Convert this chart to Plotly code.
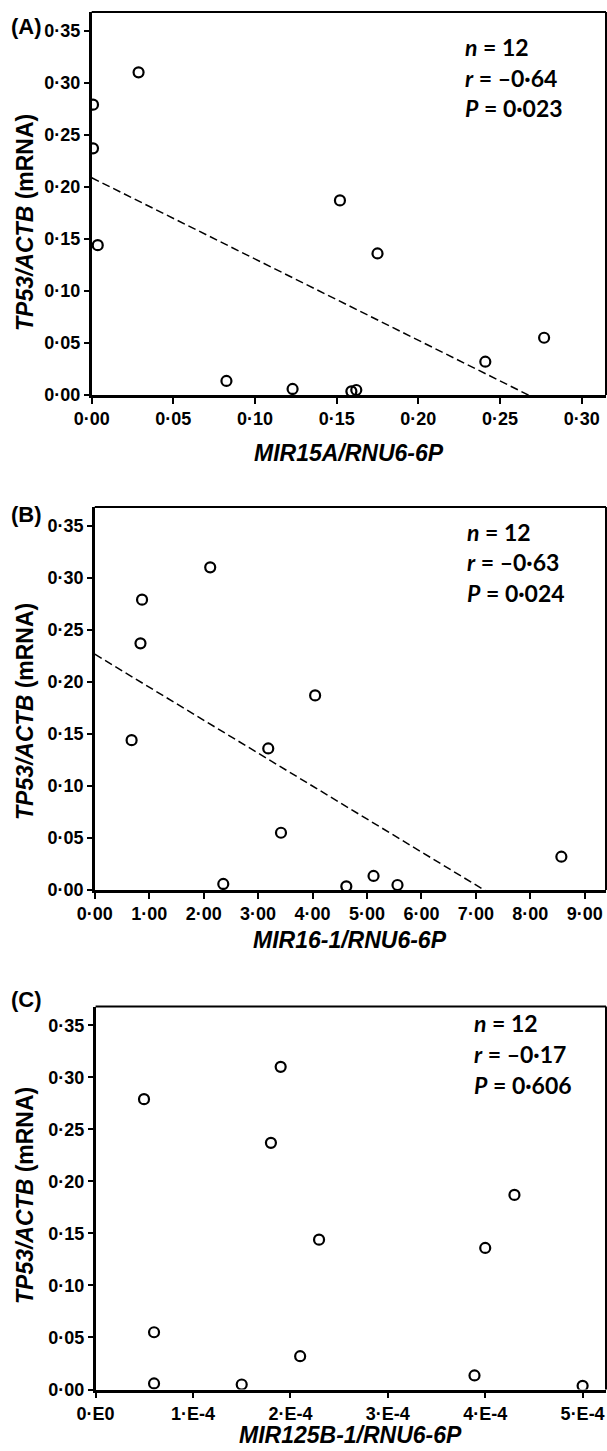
import numpy as np
import plotly.graph_objects as go

W, H = 607, 1451

# ---- data ----
tp53 = [0.310, 0.279, 0.237, 0.187, 0.144, 0.136, 0.055, 0.032, 0.0135, 0.0058, 0.0048, 0.0035]
mir15a = [0.0287, 0.0008, 0.0008, 0.152, 0.0037, 0.175, 0.277, 0.241, 0.0825, 0.123, 0.162, 0.159]
mir16 = [2.12, 0.868, 0.839, 4.047, 0.676, 3.186, 3.42, 8.57, 5.12, 2.36, 5.56, 4.62]
mir125b = [1.90e-4, 0.497e-4, 1.80e-4, 4.30e-4, 2.294e-4, 4.00e-4, 0.60e-4, 2.10e-4, 3.89e-4, 0.60e-4, 1.50e-4, 5.00e-4]

y_tickvals = [0.00, 0.05, 0.10, 0.15, 0.20, 0.25, 0.30, 0.35]
y_ticktext = ["0·00", "0·05", "0·10", "0·15", "0·20", "0·25", "0·30", "0·35"]
xa_tickvals = [0.00, 0.05, 0.10, 0.15, 0.20, 0.25, 0.30]
xa_ticktext = ["0·00", "0·05", "0·10", "0·15", "0·20", "0·25", "0·30"]
xb_tickvals = [0, 1, 2, 3, 4, 5, 6, 7, 8, 9]
xb_ticktext = ["0·00", "1·00", "2·00", "3·00", "4·00", "5·00", "6·00", "7·00", "8·00", "9·00"]
xc_tickvals = [0, 1e-4, 2e-4, 3e-4, 4e-4, 5e-4]
xc_ticktext = ["0·E0", "1·E-4", "2·E-4", "3·E-4", "4·E-4", "5·E-4"]

stats_a = ["<i>n</i> = 12", "<i>r</i> = –0·64", "<i>P</i> = 0·023"]
stats_b = ["<i>n</i> = 12", "<i>r</i> = –0·63", "<i>P</i> = 0·024"]
stats_c = ["<i>n</i> = 12", "<i>r</i> = –0·17", "<i>P</i> = 0·606"]

panel_labels = ["(A)", "(B)", "(C)"]
x_titles = ["MIR15A/RNU6-6P", "MIR16-1/RNU6-6P", "MIR125B-1/RNU6-6P"]
y_title = "<i>TP53/ACTB</i> (mRNA)"

def px(x):
    return x / W

def py(y):
    return 1 - y / H

# layout geometry (pixels)
panels = [
    dict(x=mir15a, fit=True, left=91.7, top=12, bottom=395, xmax=0.3149,
         tv=xa_tickvals, tt=xa_ticktext, stats=stats_a, stat_x=463, stat_y=[47, 78, 108],
         lab_y=26, xt_y=453, yt_y=223),
    dict(x=mir16, fit=True, left=94.8, top=507, bottom=890, xmax=9.39,
         tv=xb_tickvals, tt=xb_ticktext, stats=stats_b, stat_x=464.6, stat_y=[532, 562, 593],
         lab_y=514, xt_y=940, yt_y=712),
    dict(x=mir125b, fit=False, left=95.6, top=1006.5, bottom=1389.5, xmax=5.24e-4,
         tv=xc_tickvals, tt=xc_ticktext, stats=stats_c, stat_x=471.5, stat_y=[1023, 1054, 1085],
         lab_y=999, xt_y=1435, yt_y=1196),
]
RIGHT = 606
YMAX = 0.368

tick_font = dict(family="Liberation Sans, Arial, sans-serif", size=18, color="black", weight="bold")

fig = go.Figure()
annotations = []
shapes = []
layout = {}

for i, p in enumerate(panels):
    k = "" if i == 0 else str(i + 1)
    xa, ya = "x" + k, "y" + k
    if p["fit"]:
        slope, intercept = np.polyfit(np.array(p["x"]), np.array(tp53), 1)
        lx = np.array([0.0, p["xmax"]])
        fig.add_trace(go.Scatter(x=lx, y=intercept + slope * lx, mode="lines",
                                 line=dict(color="black", width=1.5, dash="8px,4px"),
                                 xaxis=xa, yaxis=ya, showlegend=False, hoverinfo="skip"))
    fig.add_trace(go.Scatter(x=p["x"], y=tp53, mode="markers",
                             marker=dict(symbol="circle-open", size=10, color="black",
                                         line=dict(color="black", width=2.2)),
                             xaxis=xa, yaxis=ya, showlegend=False))
    layout["xaxis" + k] = dict(
        domain=[px(p["left"]), px(RIGHT)], anchor=ya, range=[0, p["xmax"]],
        showline=True, linecolor="black", linewidth=2.5, mirror=False, automargin=False,
        ticks="outside", ticklen=6, tickwidth=2, tickcolor="black",
        tickvals=p["tv"], ticktext=p["tt"], tickfont=tick_font,
        showgrid=False, zeroline=False)
    layout["yaxis" + k] = dict(
        domain=[py(p["bottom"]), py(p["top"])], anchor=xa, range=[0, YMAX],
        showline=True, linecolor="black", linewidth=2.5, automargin=False,
        ticks="outside", ticklen=5, tickwidth=2, tickcolor="black",
        tickvals=y_tickvals, ticktext=y_ticktext, tickfont=tick_font,
        showgrid=False, zeroline=False)
    # top and right frame lines
    shapes.append(dict(type="line", xref=xa + " domain", yref=ya + " domain",
                       x0=0, x1=1, y0=1, y1=1, line=dict(color="black", width=2)))
    shapes.append(dict(type="line", xref=xa + " domain", yref=ya + " domain",
                       x0=1, x1=1, y0=0, y1=1, line=dict(color="black", width=2)))
    # stats text
    for t, sy in zip(p["stats"], p["stat_y"]):
        annotations.append(dict(text=t, xref="paper", yref="paper", x=px(p["stat_x"]), y=py(sy),
                                xanchor="left", yanchor="middle", showarrow=False,
                                font=dict(family="Lato, Open Sans, sans-serif", size=23,
                                          color="black", weight="bold")))
    # panel label
    annotations.append(dict(text=panel_labels[i], xref="paper", yref="paper", x=px(26.5), y=py(p["lab_y"]),
                            xanchor="center", yanchor="middle", showarrow=False,
                            font=dict(family="Liberation Sans, Arial, sans-serif", size=22,
                                      color="black", weight="bold")))
    # x title
    annotations.append(dict(text="<i>" + x_titles[i] + "</i>", xref="paper", yref="paper",
                            x=px((p["left"] + RIGHT) / 2), y=py(p["xt_y"]),
                            xanchor="center", yanchor="middle", showarrow=False,
                            font=dict(family="Liberation Sans, Arial, sans-serif", size=23,
                                      color="black", weight="bold")))
    # y title
    annotations.append(dict(text=y_title, xref="paper", yref="paper", x=px(25), y=py(p["yt_y"]),
                            xanchor="center", yanchor="middle", showarrow=False, textangle=-90,
                            font=dict(family="Liberation Sans, Arial, sans-serif", size=23,
                                      color="black", weight="bold")))

fig.update_layout(
    width=W, height=H, autosize=False,
    margin=dict(l=0, r=0, t=0, b=0),
    paper_bgcolor="white", plot_bgcolor="white",
    annotations=annotations, shapes=shapes, showlegend=False,
    **layout)

fig.write_html(
    "out.html",
    config={"displayModeBar": False},
    post_script="document.body.style.margin='0';document.body.style.padding='0';"
                "document.body.style.overflow='hidden';",
)
